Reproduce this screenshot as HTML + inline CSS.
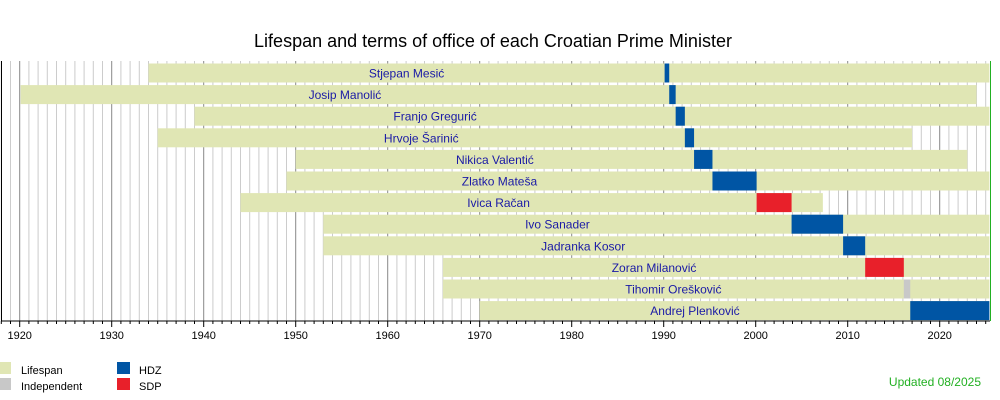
<!DOCTYPE html>
<html><head><meta charset="utf-8"><style>
html,body{margin:0;padding:0;background:#fff;}
svg{display:block;font-family:"Liberation Sans",sans-serif;}
</style></head><body>
<svg id="c" width="1000" height="400" xmlns="http://www.w3.org/2000/svg"></svg>
<script>
const s=document.getElementById('c');
const X=y=>19.7+(y-1920)*9.2;
let h='';
h+='<text x="493" y="47" font-size="18" text-anchor="middle" fill="#000">Lifespan and terms of office of each Croatian Prime Minister</text>';
for(let y=1918;y<=2025;y++){
  const x=X(y).toFixed(1);
  const maj=y%10==0;
  h+=`<line x1="${x}" y1="61" x2="${x}" y2="321" stroke="${maj?'#888':'#ccc'}" stroke-width="1"/>`;
  h+=`<line x1="${x}" y1="321" x2="${x}" y2="${maj?327:324}" stroke="#000" stroke-width="1"/>`;
  if(maj) h+=`<text x="${x}" y="339" font-size="11" text-anchor="middle" fill="#000">${y}</text>`;
}
const E=2025.4;
const d=[
["Stjepan Mesić",1934,E,1990.1,1990.6,'#0055a4'],
["Josip Manolić",1920.1,2024,1990.6,1991.3,'#0055a4'],
["Franjo Gregurić",1939,E,1991.3,1992.3,'#0055a4'],
["Hrvoje Šarinić",1935,2017,1992.3,1993.3,'#0055a4'],
["Nikica Valentić",1950,2023,1993.3,1995.3,'#0055a4'],
["Zlatko Mateša",1949,E,1995.3,2000.1,'#0055a4'],
["Ivica Račan",1944,2007.3,2000.1,2003.9,'#e8202a'],
["Ivo Sanader",1953,E,2003.9,2009.5,'#0055a4'],
["Jadranka Kosor",1953,E,2009.5,2011.9,'#0055a4'],
["Zoran Milanović",1966,E,2011.9,2016.1,'#e8202a'],
["Tihomir Orešković",1966,E,2016.1,2016.8,'#c8c8c8'],
["Andrej Plenković",1970,E,2016.8,E,'#0055a4']];
d.forEach((r,i)=>{
  const t=63.5+i*21.6;
  h+=`<rect x="${X(r[1])}" y="${t}" width="${X(r[2])-X(r[1])}" height="19" fill="#e0e6b4"/>`;
  h+=`<rect x="${X(r[3])}" y="${t}" width="${X(r[4])-X(r[3])}" height="19" fill="${r[5]}"/>`;
  const cx=(X(r[1])+X(r[3]))/2;
  h+=`<text x="${cx}" y="${t+14}" font-size="12" text-anchor="middle" fill="#1a1aa6">${r[0]}</text>`;
});
h+='<line x1="1.5" y1="61" x2="1.5" y2="321" stroke="#000"/>';
h+='<line x1="1" y1="321" x2="990" y2="321" stroke="#000"/>';
h+='<line x1="990.5" y1="61" x2="990.5" y2="321" stroke="#22b022"/>';
h+='<rect x="0" y="362" width="11" height="12" fill="#e0e6b4"/><text x="21" y="374" font-size="11">Lifespan</text>';
h+='<rect x="0" y="378" width="11" height="12" fill="#c8c8c8"/><text x="21" y="390" font-size="11">Independent</text>';
h+='<rect x="117" y="362" width="13" height="12" fill="#0055a4"/><text x="139" y="374" font-size="11">HDZ</text>';
h+='<rect x="117" y="378" width="13" height="12" fill="#e8202a"/><text x="139" y="390" font-size="11">SDP</text>';
h+='<text x="981" y="386" font-size="12" text-anchor="end" fill="#22b022">Updated 08/2025</text>';
s.innerHTML=h;
</script>
</body></html>
